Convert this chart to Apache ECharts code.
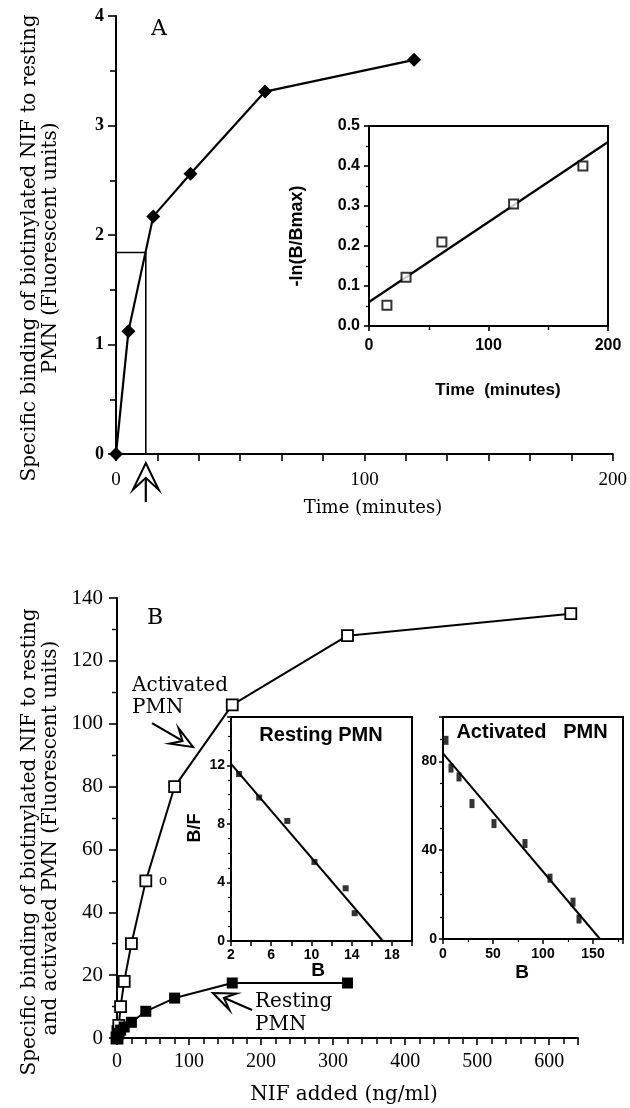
<!DOCTYPE html>
<html>
<head>
<meta charset="utf-8">
<script src="https://cdn.jsdelivr.net/npm/echarts@6/dist/echarts.min.js"></script>
<style>html,body{margin:0;padding:0;background:#fff}#c{width:630px;height:1108px}</style>
</head>
<body>
<div id="c"></div>
<script>
// ---------- Panel A: time course (resting PMN) ----------
const timeA = [0, 5, 15, 30, 60, 120];
const bindingA = [0, 1.12, 2.17, 2.56, 3.31, 3.6];
const halfTimeX = [0, 12, 12];
const halfTimeY = [1.84, 1.84, 0];
// inset A: -ln(B/Bmax) vs time
const insetTime = [15, 31, 61, 121, 179];
const insetLn = [0.052, 0.122, 0.21, 0.305, 0.40];
const insetFitX = [0, 200];
const insetFitY = [0.06, 0.46];
// ---------- Panel B: concentration dependence ----------
const nifActivated = [0, 1.25, 2.5, 5, 10, 20, 40, 80, 160, 320, 630];
const bindActivated = [0, 2, 4, 10, 18, 30, 50, 80, 106, 128, 135];
const nifResting = [0, 1.25, 2.5, 5, 10, 20, 40, 80, 160, 320];
const bindResting = [0, 1, 1.5, 2.5, 3.5, 5, 8.5, 12.7, 17.5, 17.5];
// Scatchard insets
const restingB = [2.8, 4.8, 7.6, 10.3, 13.4, 14.3];
const restingBF = [11.4, 9.8, 8.2, 5.4, 3.6, 1.9];
const restingFitX = [2, 17.1];
const restingFitY = [12.1, 0];
const activatedB = [3, 8, 16, 29, 51, 82, 107, 130, 136];
const activatedBF = [89.5, 77, 73, 61, 52, 43, 27.4, 16.6, 9];
const activatedFitX = [0, 157];
const activatedFitY = [83.6, 0];
// annotation arrows (data coordinates)
const arrowActivated = {tail: [48.6, 100.2], tip: [105.5, 92.6]};
const arrowResting = {tail: [187.5, 8.9], tip: [133, 14.3]};

const zip = (xs, ys) => xs.map((x, i) => [x, ys[i]]);
const SERIF = '"Liberation Serif", "Times New Roman", serif';
const BOOK = '"DejaVu Serif", serif';
const SANS = '"Liberation Sans", Arial, sans-serif';

function axisBase(o) {
  return Object.assign({
    type: 'value',
    axisLine: {show: true, onZero: false, lineStyle: {color: '#000', width: 2}},
    axisTick: {show: true, length: 7, lineStyle: {color: '#000', width: 1.6}},
    minorTick: {show: true, splitNumber: 2, length: 4, lineStyle: {color: '#000', width: 1.2}},
    splitLine: {show: false},
    minorSplitLine: {show: false},
    axisLabel: {color: '#000'}
  }, o);
}
const only = (step, dec) => v => {
  const r = Math.round(v / step) * step;
  return Math.abs(v - r) < 1e-6 ? (dec != null ? v.toFixed(dec) : String(Math.round(v))) : '';
};

const option = {
  animation: false,
  backgroundColor: '#fff',
  grid: [
    {left: 116, top: 16, width: 499, height: 438},
    {left: 369, top: 126, width: 239, height: 200, show: true, backgroundColor: '#fff', borderColor: '#000', borderWidth: 2, z: 5},
    {left: 117, top: 598, width: 461, height: 440},
    {left: 231, top: 717, width: 181, height: 224, show: true, backgroundColor: '#fff', borderColor: '#000', borderWidth: 2, z: 5},
    {left: 443, top: 717, width: 180, height: 222, show: true, backgroundColor: '#fff', borderColor: '#000', borderWidth: 2, z: 5}
  ],
  xAxis: [
    axisBase({gridIndex: 0, min: 0, max: 200, interval: 100,
      minorTick: {show: true, splitNumber: 6, length: 7, lineStyle: {color: '#000', width: 1.6}},
      axisLabel: {color: '#000', fontFamily: SERIF, fontSize: 19, margin: 17, formatter: only(100)}}),
    axisBase({gridIndex: 1, min: 0, max: 200, interval: 100, z: 6,
      axisTick: {show: true, length: 5, lineStyle: {color: '#000', width: 1.6}},
      minorTick: {show: true, splitNumber: 2, length: 4, lineStyle: {color: '#000', width: 1.4}},
      axisLabel: {color: '#000', fontFamily: SANS, fontWeight: 'bold', fontSize: 16, margin: 12, formatter: only(100)}}),
    axisBase({gridIndex: 2, min: 0, max: 640, interval: 100,
      minorTick: {show: true, splitNumber: 5, length: 6, lineStyle: {color: '#000', width: 1.5}},
      axisLabel: {color: '#000', fontFamily: SERIF, fontSize: 20, margin: 14, formatter: only(100)}}),
    axisBase({gridIndex: 3, min: 2, max: 20, interval: 4, z: 6,
      axisTick: {show: true, length: 5, lineStyle: {color: '#000', width: 1.5}},
      minorTick: {show: true, splitNumber: 2, length: 5, lineStyle: {color: '#000', width: 1.5}},
      axisLabel: {color: '#000', fontFamily: SANS, fontWeight: 'bold', fontSize: 14, margin: 7,
        formatter: v => (v < 19 ? String(v) : '')}}),
    axisBase({gridIndex: 4, min: 0, max: 180, interval: 50, z: 6,
      axisTick: {show: true, length: 5, lineStyle: {color: '#000', width: 1.5}},
      minorTick: {show: true, splitNumber: 2, length: 3, lineStyle: {color: '#000', width: 1.2}},
      axisLabel: {color: '#000', fontFamily: SANS, fontWeight: 'bold', fontSize: 14, margin: 8, formatter: only(50)}})
  ],
  yAxis: [
    axisBase({gridIndex: 0, min: 0, max: 4, interval: 1,
      axisTick: {show: true, length: 8, lineStyle: {color: '#000', width: 1.6}},
      minorTick: {show: true, splitNumber: 2, length: 6, lineStyle: {color: '#000', width: 1.6}},
      axisLabel: {color: '#000', fontFamily: SERIF, fontWeight: 'bold', fontSize: 18, margin: 12}}),
    axisBase({gridIndex: 1, min: 0, max: 0.5, interval: 0.1, z: 6,
      axisTick: {show: true, length: 5, lineStyle: {color: '#000', width: 1.6}},
      minorTick: {show: true, splitNumber: 2, length: 3, lineStyle: {color: '#000', width: 1.2}},
      axisLabel: {color: '#000', fontFamily: SANS, fontWeight: 'bold', fontSize: 16, margin: 9, formatter: v => v.toFixed(1)}}),
    axisBase({gridIndex: 2, min: 0, max: 140, interval: 20,
      axisTick: {show: true, length: 8, lineStyle: {color: '#000', width: 1.6}},
      minorTick: {show: true, splitNumber: 2, length: 5, lineStyle: {color: '#000', width: 1.4}},
      axisLabel: {color: '#000', fontFamily: SERIF, fontSize: 21, margin: 14}}),
    axisBase({gridIndex: 3, min: 0, max: 15.3, interval: 4, z: 6,
      axisTick: {show: true, length: 4, lineStyle: {color: '#000', width: 1.5}},
      minorTick: {show: true, splitNumber: 4, length: 3, lineStyle: {color: '#000', width: 1.2}},
      axisLabel: {color: '#000', fontFamily: SANS, fontWeight: 'bold', fontSize: 14, margin: 6, formatter: only(4)}}),
    axisBase({gridIndex: 4, min: 0, max: 100, interval: 40, z: 6,
      axisTick: {show: true, length: 4, lineStyle: {color: '#000', width: 1.5}},
      minorTick: {show: true, splitNumber: 4, length: 3, lineStyle: {color: '#000', width: 1.2}},
      axisLabel: {color: '#000', fontFamily: SANS, fontWeight: 'bold', fontSize: 14, margin: 6, formatter: only(40)}})
  ],
  series: [
    {type: 'line', xAxisIndex: 0, yAxisIndex: 0, data: zip(halfTimeX, halfTimeY), symbol: 'none',
      lineStyle: {color: '#000', width: 1.6}, z: 2},
    {type: 'line', xAxisIndex: 0, yAxisIndex: 0, data: zip(timeA, bindingA), symbol: 'diamond', symbolSize: 14,
      itemStyle: {color: '#000'}, lineStyle: {color: '#000', width: 2.2}, clip: false, z: 3},
    {type: 'line', xAxisIndex: 1, yAxisIndex: 1, data: zip(insetFitX, insetFitY), symbol: 'none',
      lineStyle: {color: '#000', width: 2.2}, z: 7},
    {type: 'scatter', xAxisIndex: 1, yAxisIndex: 1, data: zip(insetTime, insetLn), symbol: 'rect', symbolSize: 9,
      itemStyle: {color: '#fff', borderColor: '#000', borderWidth: 2}, z: 8},
    {type: 'line', xAxisIndex: 2, yAxisIndex: 2, data: zip(nifActivated, bindActivated), symbol: 'rect', symbolSize: 11,
      showAllSymbol: true, itemStyle: {color: '#fff', borderColor: '#000', borderWidth: 1.8},
      lineStyle: {color: '#000', width: 2}, clip: false, z: 3},
    {type: 'line', xAxisIndex: 2, yAxisIndex: 2, data: zip(nifResting, bindResting), symbol: 'rect', symbolSize: 11,
      showAllSymbol: true, itemStyle: {color: '#000'}, lineStyle: {color: '#000', width: 2}, clip: false, z: 3},
    {type: 'line', xAxisIndex: 3, yAxisIndex: 3, data: zip(restingFitX, restingFitY), symbol: 'none',
      lineStyle: {color: '#000', width: 2}, z: 7},
    {type: 'scatter', xAxisIndex: 3, yAxisIndex: 3, data: zip(restingB, restingBF), symbol: 'rect', symbolSize: 6,
      itemStyle: {color: '#000'}, z: 8},
    {type: 'line', xAxisIndex: 4, yAxisIndex: 4, data: zip(activatedFitX, activatedFitY), symbol: 'none',
      lineStyle: {color: '#000', width: 2}, z: 7},
    {type: 'scatter', xAxisIndex: 4, yAxisIndex: 4, data: zip(activatedB, activatedBF), symbol: 'rect', symbolSize: [5, 9],
      itemStyle: {color: '#000'}, z: 8}
  ]
};

const chart = echarts.init(document.getElementById('c'));
chart.setOption(option);

function txt(text, x, y, font, opts) {
  return {type: 'text', x: x, y: y, z: 20,
    style: Object.assign({text: text, font: font, fill: '#000', align: 'center', verticalAlign: 'middle'}, opts || {})};
}
function vtxt(text, x, y, font, opts) {
  return {type: 'text', x: x, y: y, rotation: Math.PI / 2, z: 20,
    style: Object.assign({text: text, font: font, fill: '#000', align: 'center', verticalAlign: 'middle'}, opts || {})};
}
function arrow(tail, tip, L, W) {
  const dx = tip[0] - tail[0], dy = tip[1] - tail[1];
  const len = Math.hypot(dx, dy), ux = dx / len, uy = dy / len, nx = -uy, ny = ux;
  const notch = [tip[0] - 0.55 * L * ux, tip[1] - 0.55 * L * uy];
  return [
    {type: 'polyline', z: 20, shape: {points: [tail, notch]}, style: {stroke: '#000', lineWidth: 2.2, fill: null}},
    {type: 'polygon', z: 21, shape: {points: [
      tip,
      [tip[0] - L * ux + W * nx, tip[1] - L * uy + W * ny],
      notch,
      [tip[0] - L * ux - W * nx, tip[1] - L * uy - W * ny]
    ]}, style: {stroke: '#000', lineWidth: 2, fill: '#fff', lineJoin: 'miter'}}
  ];
}

const pA = chart.convertToPixel({xAxisIndex: 0, yAxisIndex: 0}, [halfTimeX[1], 0]);
const pActTail = chart.convertToPixel({xAxisIndex: 2, yAxisIndex: 2}, arrowActivated.tail);
const pActTip = chart.convertToPixel({xAxisIndex: 2, yAxisIndex: 2}, arrowActivated.tip);
const pResTail = chart.convertToPixel({xAxisIndex: 2, yAxisIndex: 2}, arrowResting.tail);
const pResTip = chart.convertToPixel({xAxisIndex: 2, yAxisIndex: 2}, arrowResting.tip);

const F_T = '20px ' + BOOK;
const graphics = [
  vtxt('Specific binding of biotinylated NIF to resting', 30, 248, F_T),
  vtxt('PMN (Fluorescent units)', 51, 248, F_T),
  txt('A', 159, 29, '22px ' + BOOK),
  txt('Time (minutes)', 373, 508, '18px ' + BOOK),
  vtxt('-ln(B/Bmax)', 297, 236, 'bold 18px ' + SANS, {textShadowBlur: 0}),
  txt('Time  (minutes)', 498, 390, 'bold 17px ' + SANS),
  vtxt('Specific binding of biotinylated NIF to resting', 30, 842, F_T),
  vtxt('and activated PMN (Fluorescent units)', 51, 838, F_T),
  txt('B', 155, 618, '22px ' + BOOK),
  txt('NIF added (ng/ml)', 344, 1095, '20px ' + BOOK),
  txt('Activated', 132, 686, '20px ' + BOOK, {align: 'left'}),
  txt('PMN', 132, 708, '20px ' + BOOK, {align: 'left'}),
  txt('Resting', 255, 1002, '20px ' + BOOK, {align: 'left'}),
  txt('PMN', 255, 1025, '20px ' + BOOK, {align: 'left'}),
  txt('o', 163, 881, '16px ' + SERIF),
  txt('Resting PMN', 321, 735, 'bold 20px ' + SANS),
  vtxt('B/F', 195, 828, 'bold 18px ' + SANS),
  txt('B', 318, 971, 'bold 19px ' + SANS),
  txt('Activated   PMN', 532, 732, 'bold 20px ' + SANS),
  txt('B', 522, 973, 'bold 19px ' + SANS)
].concat(
  arrow([pA[0], pA[1] + 48], [pA[0], pA[1] + 9], 27, 13),
  arrow(pActTail, pActTip, 22, 9),
  arrow(pResTail, pResTip, 22, 9)
);
chart.setOption({graphic: graphics});
</script>
</body>
</html>
